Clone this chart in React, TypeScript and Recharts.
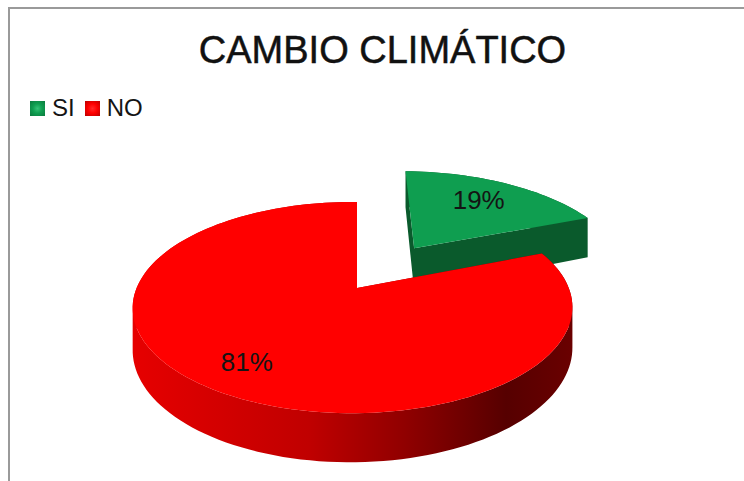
import { PieChart, Pie, Legend } from "recharts";

const categories = ["SI", "NO"];
const values = [19, 81];
const sliceColors = ["#0f9e50", "#ff0000"];
const wallColors = ["#0a5a2c", "url(#redWall)"];
const iconLights = ["#35c277", "#ff2a2a"];
const iconEdges = ["#0b7a3e", "#b80000"];
const explodedSlice = "SI";

const WIDTH = 744;
const HEIGHT = 481;
// where the pie's centre lands on the page, and the look of the 3D projection
const VERTEX_X = 357;
const VERTEX_Y = 288;
const SCALE_X = 216;
const SCALE_Y = 102;
const TILT = 0.185;
const YAW = 0.02;
const DEPTH = 40;
const EXPLODED_DEPTH = 46;
const EXPLODE = 0.51;
const EXPLODED_RADIUS = 1.04;
const RAD = Math.PI / 180;

const pieData = categories.map((name, i) => ({
  name,
  value: values[i],
  fill: sliceColors[i],
  wall: wallColors[i],
}));

// flat pie coordinates -> screen, with perspective
function project(x: number, y: number, drop = 0) {
  const w = 1 + TILT * y + YAW * x;
  return {
    x: VERTEX_X + (SCALE_X * x) / w,
    y: VERTEX_Y - (SCALE_Y * y) / w + drop / w,
  };
}

function slicePoints(startAngle: number, endAngle: number, name: string) {
  const mid = ((startAngle + endAngle) / 2) * RAD;
  const exploded = name === explodedSlice;
  const off = exploded ? EXPLODE : 0;
  const r = exploded ? EXPLODED_RADIUS : 1;
  const ox = off * Math.cos(mid);
  const oy = off * Math.sin(mid);
  const pts = [[ox, oy]];
  const steps = Math.ceil(Math.abs(endAngle - startAngle) / 2);
  for (let i = 0; i <= steps; i++) {
    const a = (startAngle + ((endAngle - startAngle) * i) / steps) * RAD;
    pts.push([ox + r * Math.cos(a), oy + r * Math.sin(a)]);
  }
  return pts;
}

function Slice3D(props: any) {
  const { startAngle, endAngle, fill, payload, name } = props;
  const label = payload?.name ?? name;
  const depth = label === explodedSlice ? EXPLODED_DEPTH : DEPTH;
  const pts = slicePoints(startAngle, endAngle, label);
  const top = pts.map(([x, y]) => project(x, y));
  const bottom = pts.map(([x, y]) => project(x, y, depth));
  const face = top.map((p, i) => `${i ? "L" : "M"}${p.x},${p.y}`).join("") + "Z";

  // one path for the whole wall, every quad wound the same way so nothing cancels out
  let wall = "";
  pts.forEach((_, i) => {
    const j = (i + 1) % pts.length;
    const quad = [top[i], top[j], bottom[j], bottom[i]];
    let area = 0;
    quad.forEach((p, k) => {
      const q = quad[(k + 1) % 4];
      area += p.x * q.y - q.x * p.y;
    });
    if (area < 0) quad.reverse();
    wall += quad.map((p, k) => `${k ? "L" : "M"}${p.x},${p.y}`).join("") + "Z";
  });

  return (
    <g>
      <path d={wall} fill={payload?.wall} />
      <path d={face} fill={fill} />
    </g>
  );
}

function SliceLabel(props: any) {
  const { midAngle, percent, name } = props;
  const a = midAngle * RAD;
  const r = name === explodedSlice ? 1.2 : 0.79;
  const p = project(r * Math.cos(a), r * Math.sin(a));
  return (
    <text x={p.x} y={p.y} dy={-3} textAnchor="middle" dominantBaseline="central" fontSize={26} fill="#141414" fontFamily="Liberation Sans">
      {`${Math.round(percent * 100)}%`}
    </text>
  );
}

function LegendRow() {
  return (
    <div style={{ display: "flex", alignItems: "center", fontFamily: "Liberation Sans", fontSize: 24, color: "#141414" }}>
      {categories.map((name, i) => (
        <span key={name} style={{ display: "flex", alignItems: "center", marginRight: 10 }}>
          <span
            style={{
              width: 15,
              height: 15,
              background: `radial-gradient(circle, ${iconLights[i]} 0%, ${sliceColors[i]} 45%, ${iconEdges[i]} 100%)`,
              marginRight: 7,
            }}
          />
          {name}
        </span>
      ))}
    </div>
  );
}

export default function App() {
  return (
    <div style={{ position: "relative", width: WIDTH, height: HEIGHT, background: "#fff", overflow: "hidden" }}>
      <style>{`body { margin: 0; }`}</style>
      <div style={{ position: "absolute", left: 8, top: 7, right: 0, height: 2, background: "#9a9a9a" }} />
      <div style={{ position: "absolute", left: 8, top: 7, bottom: 0, width: 2, background: "#9a9a9a" }} />
      <div
        style={{
          position: "absolute",
          left: 0,
          top: 27,
          width: 765,
          textAlign: "center",
          fontFamily: "Liberation Sans",
          fontSize: 38,
          lineHeight: "46px",
          color: "#111",
          WebkitTextStroke: "0.5px #111",
        }}
      >
        CAMBIO CLIMÁTICO
      </div>
      <PieChart width={WIDTH} height={HEIGHT} style={{ position: "absolute", left: 0, top: 0 }}>
        <defs>
          <linearGradient id="redWall" gradientUnits="userSpaceOnUse" x1={133} y1={0} x2={572} y2={0}>
            <stop offset="0%" stopColor="#e60000" />
            <stop offset="40%" stopColor="#c00000" />
            <stop offset="62%" stopColor="#900000" />
            <stop offset="85%" stopColor="#560000" />
            <stop offset="100%" stopColor="#6a0000" />
          </linearGradient>
        </defs>
        <Legend content={<LegendRow />} verticalAlign="top" align="left" wrapperStyle={{ left: 30, top: 94, width: 200 }} />
        <Pie
          data={pieData}
          dataKey="value"
          nameKey="name"
          startAngle={90}
          endAngle={-270}
          cx={VERTEX_X}
          cy={VERTEX_Y}
          outerRadius={100}
          shape={Slice3D}
          label={SliceLabel}
          labelLine={false}
          stroke="none"
          isAnimationActive={false}
        />
      </PieChart>
    </div>
  );
}
